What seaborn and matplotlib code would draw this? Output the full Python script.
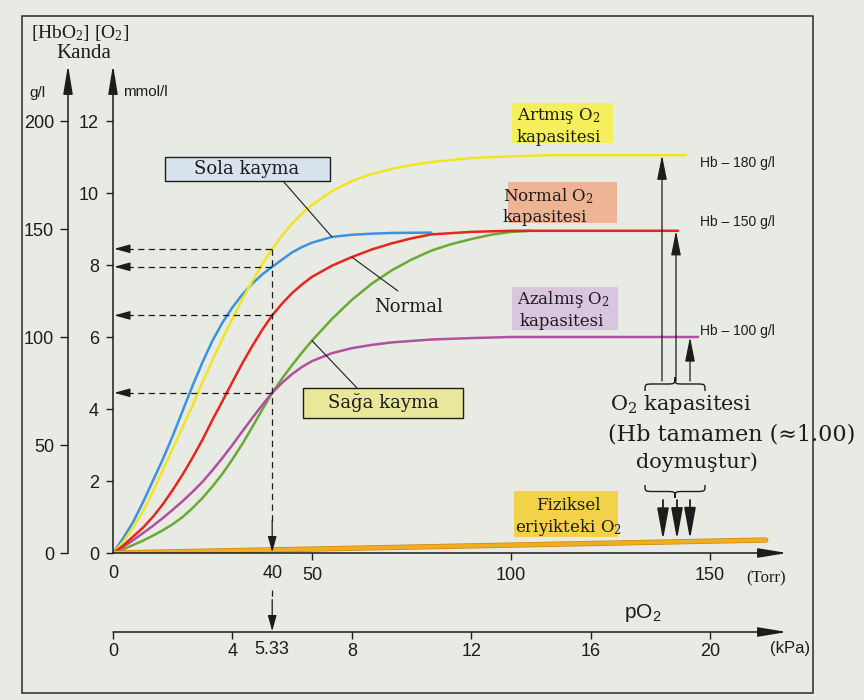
import matplotlib
matplotlib.use("Agg")
import matplotlib.pyplot as plt
import matplotlib.transforms as mtransforms
import matplotlib.patheffects as pe
from matplotlib.patches import Rectangle, PathPatch
from matplotlib.path import Path
import pandas as pd
import seaborn as sns

# ---- O2 content of blood (mmol/l) against pO2 (Torr) ----
po2_sola = [0, 2.5, 5, 7.5, 10, 12.5, 15, 17.5, 20, 22.5, 25, 27.5, 30, 32.5, 35, 37.5, 40,
            42.5, 45, 47.5, 50, 55, 60, 65, 70, 80]
o2_sola = [0, 0.4, 0.85, 1.4, 2.0, 2.6, 3.25, 3.95, 4.65, 5.3, 5.9, 6.4, 6.82, 7.18, 7.48,
           7.74, 7.95, 8.15, 8.35, 8.5, 8.62, 8.78, 8.84, 8.87, 8.89, 8.9]

po2_artmis = [0, 2.5, 5, 7.5, 10, 12.5, 15, 17.5, 20, 22.5, 25, 27.5, 30, 32.5, 35, 37.5, 40,
              42.5, 45, 47.5, 50, 55, 60, 65, 70, 75, 80, 90, 100, 110, 144]
o2_artmis = [0, 0.3, 0.7, 1.15, 1.7, 2.3, 2.9, 3.5, 4.1, 4.75, 5.35, 5.95, 6.5, 7.05, 7.55,
             8.02, 8.45, 8.82, 9.15, 9.43, 9.67, 10.05, 10.33, 10.53, 10.67, 10.78, 10.86,
             10.97, 11.02, 11.05, 11.05]

po2_normal = [0, 2.5, 5, 7.5, 10, 12.5, 15, 17.5, 20, 22.5, 25, 27.5, 30, 32.5, 35, 37.5, 40,
              42.5, 45, 47.5, 50, 55, 60, 65, 70, 75, 80, 90, 100, 110, 142]
o2_normal = [0, 0.2, 0.45, 0.7, 1.0, 1.35, 1.75, 2.18, 2.65, 3.15, 3.7, 4.22, 4.75, 5.27, 5.75,
             6.2, 6.6, 6.93, 7.22, 7.46, 7.67, 7.98, 8.22, 8.43, 8.6, 8.74, 8.85, 8.92, 8.95,
             8.95, 8.95]

po2_saga = [0, 2.5, 5, 7.5, 10, 12.5, 15, 17.5, 20, 22.5, 25, 27.5, 30, 32.5, 35, 37.5, 40,
            42.5, 45, 47.5, 50, 55, 60, 65, 70, 75, 80, 85, 90, 95, 100, 105]
o2_saga = [0, 0.1, 0.22, 0.34, 0.48, 0.63, 0.8, 1.0, 1.25, 1.53, 1.85, 2.2, 2.6, 3.03, 3.5,
           3.98, 4.45, 4.85, 5.22, 5.57, 5.9, 6.5, 7.03, 7.48, 7.85, 8.15, 8.4, 8.58, 8.72,
           8.84, 8.92, 8.95]

po2_azalmis = [0, 2.5, 5, 7.5, 10, 12.5, 15, 17.5, 20, 22.5, 25, 27.5, 30, 32.5, 35, 37.5, 40,
               42.5, 45, 47.5, 50, 55, 60, 65, 70, 80, 90, 100, 147]
o2_azalmis = [0, 0.17, 0.35, 0.55, 0.75, 0.97, 1.2, 1.44, 1.7, 1.98, 2.3, 2.64, 3.0, 3.38,
              3.75, 4.11, 4.45, 4.73, 4.97, 5.17, 5.33, 5.55, 5.69, 5.78, 5.85, 5.93, 5.97,
              6.0, 6.0]

# physically dissolved O2
po2_fiziksel = [0, 164]
o2_fiziksel = [0.0, 0.36]

# ---- axes ticks ----
mmol_ticks = [0, 2, 4, 6, 8, 10, 12]
gl_ticks = [0, 50, 100, 150, 200]
torr_ticks = [50, 100, 150]
torr_marks = [0, 40]
kpa_ticks = [0, 4, 8, 12, 16, 20]
kpa_marks = [5.33]
hb_labels = ["Hb \u2013 180 g/l", "Hb \u2013 150 g/l", "Hb \u2013 100 g/l"]
TORR_PER_KPA = 7.5
GL_PER_MMOL = 200 / 12

sns.set_theme(style="white")
plt.rcParams["font.family"] = ["Liberation Sans", "DejaVu Sans"]
INK = "#1c1c1c"
SERIF = ["DejaVu Serif"]

W, H = 864, 700
fig = plt.figure(figsize=(W / 100, H / 100), dpi=100)
fig.patch.set_facecolor("#e8ebe3")
# pixel coordinates, origin at top-left
PX = mtransforms.Affine2D().scale(1.0 / W, -1.0 / H).translate(0, 1) + fig.transFigure


def rect(x0, y0, x1, y1):
    return [x0 / W, 1 - y1 / H, (x1 - x0) / W, (y1 - y0) / H]


X0, X1 = 113, 787
Y0, Y1 = 553, 65
PX_TORR, PX_MMOL = 3.98, 36.0
xmax = (X1 - X0) / PX_TORR
ymax = (Y0 - Y1) / PX_MMOL


def to_data(px, py):
    return (px - X0) / PX_TORR, (Y0 - py) / PX_MMOL


axis_arrow = dict(arrowstyle="-|>,head_length=1.1,head_width=0.18", mutation_scale=16,
                  lw=1.1, color=INK, shrinkA=0, shrinkB=0)

# ---------------- main axes ----------------
ax = fig.add_axes(rect(X0, Y1, X1, Y0))
ax.set_xlim(0, xmax)
ax.set_ylim(0, ymax)
ax.patch.set_alpha(0)
for s in ax.spines.values():
    s.set_visible(False)

curves = [
    ("sola", po2_sola, o2_sola, "#3b92e0"),
    ("saga", po2_saga, o2_saga, "#6aaa34"),
    ("azalmis", po2_azalmis, o2_azalmis, "#b0509e"),
    ("artmis", po2_artmis, o2_artmis, "#f2e422"),
    ("normal", po2_normal, o2_normal, "#e5261f"),
]
df = pd.concat([pd.DataFrame({"pO2": xs, "O2": ys, "curve": n}) for n, xs, ys, _ in curves])
sns.lineplot(data=df, x="pO2", y="O2", hue="curve", hue_order=[c[0] for c in curves],
             palette={c[0]: c[3] for c in curves}, estimator=None, sort=False,
             linewidth=1.8, legend=False, ax=ax)
sns.lineplot(x=po2_fiziksel, y=o2_fiziksel, color="#f2ad1e", linewidth=2.8, ax=ax,
             path_effects=[pe.Stroke(linewidth=3.8, foreground="#c9861a"), pe.Normal()])
ax.set_xlabel("")
ax.set_ylabel("")

ax.annotate("", xy=(0, 1), xytext=(0, 0), xycoords="axes fraction", arrowprops=axis_arrow,
            annotation_clip=False)
ax.annotate("", xy=(1, 0), xytext=(0, 0), xycoords="axes fraction", arrowprops=axis_arrow,
            annotation_clip=False)

ax.set_yticks(mmol_ticks)
ax.set_yticklabels([str(v) for v in mmol_ticks])
ax.tick_params(axis="y", which="major", left=True, direction="out", length=5, width=1,
               pad=5, labelsize=13, colors=INK)
ax.set_xticks(torr_ticks)
ax.set_xticklabels([str(v) for v in torr_ticks])
ax.set_xticks(torr_marks, minor=True)
ax.set_xticklabels([str(v) for v in torr_marks], minor=True)
ax.tick_params(axis="x", which="major", bottom=True, direction="out", length=5, width=1,
               pad=5, labelsize=13, colors=INK)
ax.tick_params(axis="x", which="minor", bottom=True, length=0, pad=8.6, labelsize=13,
               colors=INK)

# ---------------- g/l axis ----------------
axg = fig.add_axes(rect(68, Y1, X0, Y0))
axg.set_xlim(0, 1)
axg.set_ylim(0, ymax * GL_PER_MMOL)
axg.patch.set_alpha(0)
for s in axg.spines.values():
    s.set_visible(False)
axg.set_xticks([])
axg.set_yticks(gl_ticks)
axg.set_yticklabels([str(v) for v in gl_ticks])
axg.tick_params(axis="y", left=True, direction="out", length=6, width=1, pad=4,
                labelsize=13, colors=INK)
axg.annotate("", xy=(0, 1), xytext=(0, 0), xycoords="axes fraction", arrowprops=axis_arrow,
             annotation_clip=False)

# ---------------- kPa axis ----------------
KY = 632
axk = fig.add_axes(rect(X0, KY - 1, X1, KY))
axk.set_xlim(0, xmax / TORR_PER_KPA)
axk.set_ylim(0, 1)
axk.patch.set_alpha(0)
for s in axk.spines.values():
    s.set_visible(False)
axk.set_yticks([])
axk.set_xticks(kpa_ticks)
axk.set_xticklabels([str(v) for v in kpa_ticks])
axk.set_xticks(kpa_marks, minor=True)
axk.set_xticklabels([str(v) for v in kpa_marks], minor=True)
axk.tick_params(axis="x", which="major", bottom=True, direction="out", length=5, width=1,
                pad=3, labelsize=13, colors=INK)
axk.tick_params(axis="x", which="minor", bottom=True, length=0, pad=6.6, labelsize=13,
                colors=INK)
axk.annotate("", xy=(1, 0), xytext=(0, 0), xycoords="axes fraction", arrowprops=axis_arrow,
             annotation_clip=False)

# ---------------- read-off lines at 40 Torr ----------------
levels = [o2_artmis[po2_artmis.index(40)], o2_sola[po2_sola.index(40)],
          o2_normal[po2_normal.index(40)], o2_saga[po2_saga.index(40)]]
dash = (0, (5, 3.5))
small_head = dict(arrowstyle="-|>,head_length=0.8,head_width=0.22", mutation_scale=12,
                  lw=0.9, color=INK, shrinkA=0, shrinkB=0)
for v in levels:
    ax.plot([3.6, 40], [v, v], ls=dash, color=INK, lw=0.9, clip_on=False)
    ax.annotate("", xy=(0.3, v), xytext=(3.6, v), arrowprops=small_head, annotation_clip=False)
ax.plot([40, 40], [max(levels), 0.9], ls=dash, color=INK, lw=0.9, clip_on=False)
ax.annotate("", xy=(40, 0.02), xytext=(40, 0.9), arrowprops=small_head, annotation_clip=False)
_, y_a = to_data(0, 590)
_, y_b = to_data(0, KY)
ax.plot([40, 40], [y_a, y_b + 0.9], ls=dash, color=INK, lw=0.9, clip_on=False)
ax.annotate("", xy=(40, y_b + 0.02), xytext=(40, y_b + 0.9), arrowprops=small_head,
            annotation_clip=False)

# ---------------- leader lines ----------------
def leader(xs, ys, at, p_px):
    i = xs.index(at)
    tx, ty = to_data(*p_px)
    ax.plot([xs[i], tx], [ys[i], ty], color=INK, lw=0.8, clip_on=False)


leader(po2_sola, o2_sola, 55, (283, 181))
leader(po2_normal, o2_normal, 60, (398, 291))
leader(po2_saga, o2_saga, 50, (357, 388))

# ---------------- capacity arrows ----------------
_, y_brace_top = to_data(0, 381)
cap_x = [to_data(662, 0)[0], to_data(676, 0)[0], to_data(690, 0)[0]]
cap_top = [o2_artmis[-1], o2_normal[-1], o2_azalmis[-1]]
up_head = dict(arrowstyle="-|>,head_length=1.0,head_width=0.2", mutation_scale=15,
               lw=0.9, color=INK, shrinkA=0, shrinkB=0)
for x, top in zip(cap_x, cap_top):
    ax.annotate("", xy=(x, top), xytext=(x, y_brace_top), arrowprops=up_head,
                annotation_clip=False)

_, y_down = to_data(0, 500)
slope = o2_fiziksel[1] / po2_fiziksel[1]
down_head = dict(arrowstyle="-|>,head_length=1.2,head_width=0.22", mutation_scale=16,
                 lw=1.3, color=INK, shrinkA=0, shrinkB=0)
for x in [to_data(663, 0)[0], to_data(677, 0)[0], to_data(690, 0)[0]]:
    ax.annotate("", xy=(x, slope * x + 0.06), xytext=(x, y_down), arrowprops=down_head,
                annotation_clip=False)


def brace(x0, x1, y_end, y_tip, r=9):
    xm = (x0 + x1) / 2
    ym = (y_end + y_tip) / 2
    verts = [(x0, y_end), (x0, ym), (x0, ym), (x0 + r, ym), (xm - r, ym),
             (xm, ym), (xm, ym), (xm, y_tip),
             (xm, y_tip), (xm, ym), (xm, ym), (xm + r, ym), (x1 - r, ym),
             (x1, ym), (x1, ym), (x1, y_end)]
    codes = [Path.MOVETO, Path.CURVE4, Path.CURVE4, Path.CURVE4, Path.LINETO,
             Path.CURVE4, Path.CURVE4, Path.CURVE4,
             Path.MOVETO, Path.CURVE4, Path.CURVE4, Path.CURVE4, Path.LINETO,
             Path.CURVE4, Path.CURVE4, Path.CURVE4]
    fig.patches.append(PathPatch(Path(verts, codes), fill=False, lw=1.0, ec=INK,
                                 transform=PX, figure=fig))


brace(645, 705, 391, 377)
brace(645, 705, 485, 498)

# ---------------- boxes and labels ----------------
def box(x, y, w, h, fc, ec=None):
    fig.patches.append(Rectangle((x, y), w, h, transform=PX, fc=fc,
                                 ec=ec if ec else "none", lw=1.0, figure=fig))


def txt(x, y, s, size=12, ha="left", family=None, **kw):
    fig.text(x, y, s, transform=PX, ha=ha, va="center", fontsize=size, color=INK,
             family=family if family else SERIF, **kw)


O2 = r"O$\mathregular{_2}$"

box(165, 157, 165, 24, "#d8e2ec", INK)
txt(247, 169, "Sola kayma", 13, ha="center")
box(303, 388, 160, 30, "#e9e89a", INK)
txt(383, 403, "Sağa kayma", 13, ha="center")
txt(409, 307, "Normal", 13, ha="center")

box(512, 103, 101, 40, "#f6ef5c")
txt(517, 116, "Artmış " + O2, 12)
txt(517, 137, "kapasitesi", 12)
box(508, 182, 109, 41, "#eeb595")
txt(503, 196, "Normal " + O2, 12)
txt(503, 217, "kapasitesi", 12)
box(512, 287, 106, 43, "#d8c6df")
txt(517, 300, "Azalmış " + O2, 12)
txt(520, 322, "kapasitesi", 12)
box(514, 491, 104, 46, "#f3d24a")
txt(568, 505, "Fiziksel", 12, ha="center")
txt(515, 527, "eriyikteki " + O2, 12)

for y, s in zip([163, 222, 331], hb_labels):
    txt(700, y, s, 10, family=["Liberation Sans"])

txt(681, 405, O2 + " kapasitesi", 15, ha="center")
txt(732, 434, "(Hb tamamen (\u22481.00)", 16, ha="center")
txt(697, 462, "doymuştur)", 15, ha="center")

txt(80, 33, "[HbO" + r"$\mathregular{_2}$" + "] [" + O2 + "]", 14, ha="center",
    family=["Liberation Serif"])
txt(84, 53, "Kanda", 15, ha="center", family=["Liberation Serif"])
txt(37, 93, "g/l", 11, ha="center", family=["Liberation Sans"])
txt(145, 92, "mmol/l", 11, ha="center", family=["Liberation Sans"])

txt(766, 578, "(Torr)", 12, ha="center", family=["Liberation Serif"])
txt(790, 649, "(kPa)", 12, ha="center", family=["Liberation Sans"])
txt(643, 613, "pO" + r"$\mathregular{_2}$", 15, ha="center", family=["Liberation Sans"])

# outer frame
fig.patches.append(Rectangle((22, 16), 791, 677, transform=PX, fill=False, ec="#2a2a2a",
                             lw=1.1, figure=fig))

fig.savefig("out.png", dpi=100, facecolor=fig.get_facecolor())
